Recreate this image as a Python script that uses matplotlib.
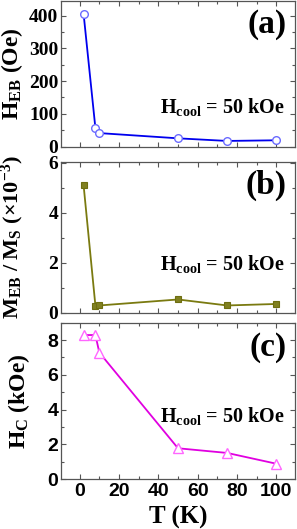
import numpy as np
import matplotlib.pyplot as plt
from matplotlib.ticker import MultipleLocator

plt.rcParams['font.weight'] = 'bold'
plt.rcParams['mathtext.fontset'] = 'custom'
plt.rcParams['mathtext.rm'] = 'Liberation Serif:bold'
plt.rcParams['mathtext.it'] = 'Liberation Serif:bold'
plt.rcParams['mathtext.bf'] = 'Liberation Serif:bold'

# temperature (K)
T = [2, 8, 10, 50, 75, 100]
# exchange bias field (Oe)
heb = [405, 56, 41, 25, 17, 19]
# M_EB / M_S (x1e-3)
meb = [5.1, 0.28, 0.29, 0.53, 0.29, 0.35]
# coercive field (kOe)
hc = [8.29, 8.29, 7.28, 1.77, 1.50, 0.88]

# axis ticks
xticks = [0, 20, 40, 60, 80, 100]
yticks_a = [0, 100, 200, 300, 400]
yticks_b = [0, 2, 4, 6]
yticks_c = [0, 2, 4, 6, 8]

serif = 'Liberation Serif'
sans = 'Liberation Sans'
spine_col = '#555555'

fig = plt.figure(figsize=(2.97, 5.29), dpi=100)
W, H = 297.0, 529.0

def make_ax(top, bottom):
    return fig.add_axes([61 / W, (H - bottom) / H, 234 / W, (bottom - top) / H])

def style(ax, yticks, ymin, tickfont, size):
    ax.set_xlim(-9.5, 109.5)
    ax.set_xticks(xticks)
    ax.xaxis.set_minor_locator(MultipleLocator(10))
    ax.set_yticks(yticks)
    ax.set_yticklabels([str(v) for v in yticks], fontfamily=tickfont,
                       fontweight='bold', fontsize=size)
    ax.yaxis.set_minor_locator(MultipleLocator(ymin))
    ax.tick_params(which='both', direction='in', top=True, right=True,
                   color=spine_col, width=0.8)
    ax.tick_params(which='major', length=3.5)
    ax.tick_params(which='minor', length=2)
    ax.tick_params(axis='y', pad=2)
    for s in ax.spines.values():
        s.set_color(spine_col)
        s.set_linewidth(0.9)

hcool = r'$\mathrm{H_{cool}}$ = 50 kOe'

# (a)
ax1 = make_ax(1, 146.5)
ax1.plot(T, heb, '-', color='#0000ee', lw=1.3, zorder=2)
ax1.plot(T, heb, 'o', mfc='white', mec='#6a6aff', ms=5.5, mew=1.0, zorder=3)
ax1.set_ylim(0, 445)
style(ax1, yticks_a, 50, serif, 14)
ax1.set_xticklabels([])
ax1.set_ylabel(r'$\mathrm{H_{EB}}$ (Oe)', fontfamily=serif, fontweight='bold',
               fontsize=17)
ax1.yaxis.set_label_coords(-0.155, 0.5)
ax1.text(0.965, 0.84, '(a)', transform=ax1.transAxes, ha='right', va='center',
         fontfamily=serif, fontweight='bold', fontsize=24)
ax1.text(0.955, 0.27, hcool, transform=ax1.transAxes, ha='right', va='center',
         fontfamily=serif, fontweight='bold', fontsize=14.5)

# (b)
ax2 = make_ax(161.7, 312.7)
ax2.plot(T, meb, '-', color='#7a7a10', lw=1.3, zorder=2)
ax2.plot(T, meb, 's', mfc='#808020', mec='#6e6e10', ms=5, mew=0.8, zorder=3)
ax2.set_ylim(0, 6.05)
style(ax2, yticks_b, 1, serif, 14)
ax2.set_xticklabels([])
ax2.set_ylabel(r'$\mathrm{M_{EB}}$ / $\mathrm{M_S}$ (×10$^{-3}$)', fontfamily=serif,
               fontweight='bold', fontsize=16)
ax2.yaxis.set_label_coords(-0.15, 0.5)
ax2.text(0.965, 0.84, '(b)', transform=ax2.transAxes, ha='right', va='center',
         fontfamily=serif, fontweight='bold', fontsize=24)
ax2.text(0.955, 0.32, hcool, transform=ax2.transAxes, ha='right', va='center',
         fontfamily=serif, fontweight='bold', fontsize=14.5)

# (c)
ax3 = make_ax(322.7, 479)
ax3.plot(T, hc, '-', color='#e000e0', lw=1.3, zorder=2)
ax3.plot(T, hc, '^', mfc='white', mec='#ff66ff', ms=6.5, mew=1.0, zorder=3)
ax3.set_ylim(0, 9)
style(ax3, yticks_c, 1, sans, 14)
ax3.set_xticklabels([str(v) for v in xticks], fontfamily=sans,
                    fontweight='bold', fontsize=14)
ax3.tick_params(axis='x', pad=3)
ax3.set_ylabel(r'$\mathrm{H_C}$ (kOe)', fontfamily=serif, fontweight='bold',
               fontsize=17)
ax3.yaxis.set_label_coords(-0.125, 0.5)
ax3.set_xlabel('T (K)', fontfamily=serif, fontweight='bold', fontsize=18, labelpad=4)
ax3.text(0.965, 0.84, '(c)', transform=ax3.transAxes, ha='right', va='center',
         fontfamily=serif, fontweight='bold', fontsize=24)
ax3.text(0.955, 0.40, hcool, transform=ax3.transAxes, ha='right', va='center',
         fontfamily=serif, fontweight='bold', fontsize=14.5)

fig.savefig('out.png', dpi=100)
